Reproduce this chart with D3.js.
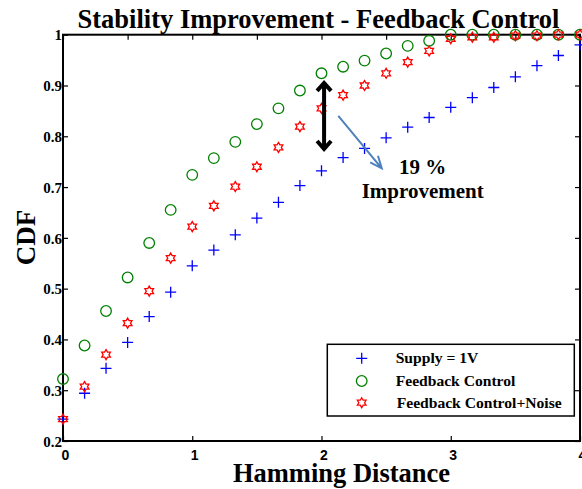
<!DOCTYPE html>
<html>
<head>
<meta charset="utf-8">
<script src="https://cdn.jsdelivr.net/npm/d3@7"></script>
<style>
  html, body { margin: 0; padding: 0; background: #fff; }
  svg { display: block; }
</style>
</head>
<body>
<svg id="chart" width="582" height="489"></svg>
<script>
// Hamming distance sample points
const hamming = [0, 0.167, 0.333, 0.5, 0.667, 0.833, 1, 1.167, 1.333, 1.5, 1.667, 1.833,
                 2, 2.167, 2.333, 2.5, 2.667, 2.833, 3, 3.167, 3.333, 3.5, 3.667, 3.833, 4];

// CDF values per configuration
const supply1V = [0.243, 0.294, 0.343, 0.394, 0.445, 0.493, 0.545, 0.576, 0.606, 0.639, 0.670, 0.703,
                  0.732, 0.758, 0.776, 0.797, 0.818, 0.837, 0.857, 0.876, 0.896, 0.917, 0.939, 0.959, 0.980];
const feedback = [0.322, 0.388, 0.456, 0.522, 0.590, 0.655, 0.724, 0.757, 0.789, 0.824, 0.855, 0.890,
                  0.924, 0.937, 0.949, 0.963, 0.978, 0.988, 1.0, 1.0, 1.0, 1.0, 1.0, 1.0, 1.0];
const feedbackNoise = [0.243, 0.307, 0.370, 0.432, 0.495, 0.560, 0.622, 0.663, 0.701, 0.740, 0.778, 0.819,
                       0.855, 0.881, 0.900, 0.924, 0.946, 0.968, 0.992, 0.995, 0.995, 0.998, 0.998, 1.0, 1.0];

const seriesNames = ["Supply = 1V", "Feedback Control", "Feedback Control+Noise"];
const xTickValues = [0, 1, 2, 3, 4];
const xTopTickValues = [0, 0.5, 1, 1.5, 2, 2.5, 3, 3.5, 4];
const yTickValues = [0.2, 0.3, 0.4, 0.5, 0.6, 0.7, 0.8, 0.9, 1];

// Improvement annotation at Hamming distance 2
const gapX = 2.02;
const gapTop = 0.907, gapBottom = 0.773;
const improvementPct = Math.round((feedback[12] - supply1V[12]) * 100);

const svg = d3.select("#chart");
const plotLeft = 63, plotRight = 580, plotTop = 34.7, plotBottom = 441;

const x = d3.scaleLinear().domain([0, 4]).range([plotLeft, plotRight]);
const y = d3.scaleLinear().domain([0.2, 1]).range([plotBottom, plotTop]);

const serif = "'Liberation Serif', 'Times New Roman', serif";
const sans = "'Liberation Sans', Arial, sans-serif";

// Frame
svg.append("rect")
  .attr("x", plotLeft).attr("y", plotTop)
  .attr("width", plotRight - plotLeft).attr("height", plotBottom - plotTop)
  .attr("fill", "none").attr("stroke", "#000").attr("stroke-width", 2);

// Left axis: inward ticks with bold serif labels
const yAxisL = svg.append("g").attr("transform", `translate(${plotLeft},0)`)
  .call(d3.axisLeft(y).tickValues(yTickValues).tickSize(-5).tickPadding(3)
    .tickFormat(d => d === 1 ? "1" : d3.format(".1f")(d)));
yAxisL.select(".domain").remove();
yAxisL.selectAll("line").attr("stroke", "#000").attr("stroke-width", 1.2);
yAxisL.selectAll("text").attr("x", -1).attr("dy", "0.35em")
  .style("font-family", serif).style("font-weight", "bold").style("font-size", "15px").attr("fill", "#000");

// Right axis: inward ticks, no labels
const yAxisR = svg.append("g").attr("transform", `translate(${plotRight},0)`)
  .call(d3.axisRight(y).tickValues(yTickValues).tickSize(-5).tickFormat(""));
yAxisR.select(".domain").remove();
yAxisR.selectAll("line").attr("stroke", "#000").attr("stroke-width", 1.2);

// Bottom axis
const xAxisB = svg.append("g").attr("transform", `translate(0,${plotBottom})`)
  .call(d3.axisBottom(x).tickValues(xTickValues).tickSize(-5).tickPadding(5).tickFormat(d3.format("d")));
xAxisB.select(".domain").remove();
xAxisB.selectAll("line").attr("stroke", "#000").attr("stroke-width", 1.2);
xAxisB.selectAll("text").attr("y", 19).attr("dy", 0).attr("dx", 2)
  .style("font-family", sans).style("font-weight", "bold").style("font-size", "14px").attr("fill", "#000");

// Top axis
const xAxisT = svg.append("g").attr("transform", `translate(0,${plotTop})`)
  .call(d3.axisTop(x).tickValues(xTopTickValues).tickSize(-5).tickFormat(""));
xAxisT.select(".domain").remove();
xAxisT.selectAll("line").attr("stroke", "#000").attr("stroke-width", 1.2);

// Marker shapes
function plusPath(s) { return `M${-s},0H${s}M0,${-s}V${s}`; }
function hexagramPath(R) {
  const r = R / Math.sqrt(3);
  const pts = [];
  for (let i = 0; i < 12; i++) {
    const a = -Math.PI / 2 + i * Math.PI / 6;
    const rad = i % 2 === 0 ? R : r;
    pts.push([rad * Math.cos(a), rad * Math.sin(a)]);
  }
  return "M" + pts.map(p => p[0].toFixed(2) + "," + p[1].toFixed(2)).join("L") + "Z";
}

const blue = "#0000ff", green = "#008000", red = "#ff0000";

function drawSeries(values, kind, color) {
  const g = svg.append("g");
  const pts = hamming.map((h, i) => ({ h, v: values[i] }));
  if (kind === "circle") {
    g.selectAll("circle").data(pts).join("circle")
      .attr("cx", d => x(d.h)).attr("cy", d => y(d.v)).attr("r", 5.3)
      .attr("fill", "none").attr("stroke", color).attr("stroke-width", 1.3);
  } else {
    const p = kind === "plus" ? plusPath(5.5) : hexagramPath(5);
    g.selectAll("path").data(pts).join("path")
      .attr("transform", d => `translate(${x(d.h)},${y(d.v)})`)
      .attr("d", p).attr("fill", "none").attr("stroke", color).attr("stroke-width", 1.3);
  }
}

drawSeries(supply1V, "plus", blue);
drawSeries(feedback, "circle", green);
drawSeries(feedbackNoise, "hexagram", red);

// Double-headed black arrow showing the gap
const ax = x(gapX), ay1 = y(gapTop), ay2 = y(gapBottom);
svg.append("path")
  .attr("d", `M${ax},${ay1}V${ay2}M${ax - 7},${ay1 + 9}L${ax},${ay1 + 1}L${ax + 7},${ay1 + 9}M${ax - 7},${ay2 - 9}L${ax},${ay2 - 1}L${ax + 7},${ay2 - 9}`)
  .attr("fill", "none").attr("stroke", "#000").attr("stroke-width", 4).attr("stroke-linejoin", "miter");

// Blue pointer arrow
const bx1 = x(2.13), by1 = y(0.84), bx2 = x(2.466), by2 = y(0.737);
const ang = Math.atan2(by2 - by1, bx2 - bx1);
const hl = 13, ha = 0.4;
svg.append("path")
  .attr("d", `M${bx1},${by1}L${bx2},${by2}` +
    `M${bx2 - hl * Math.cos(ang - ha)},${by2 - hl * Math.sin(ang - ha)}L${bx2},${by2}` +
    `L${bx2 - hl * Math.cos(ang + ha)},${by2 - hl * Math.sin(ang + ha)}`)
  .attr("fill", "none").attr("stroke", "#4f81bd").attr("stroke-width", 2);

// Annotation text
svg.append("text").attr("x", 422.7).attr("y", 173.5).attr("text-anchor", "middle")
  .style("font-family", serif).style("font-weight", "bold").style("font-size", "21px")
  .text(`${improvementPct} %`);
svg.append("text").attr("x", 422.7).attr("y", 198).attr("text-anchor", "middle")
  .style("font-family", serif).style("font-weight", "bold").style("font-size", "21px")
  .text("Improvement");

// Title and axis labels
svg.append("text").attr("x", 318.5).attr("y", 28).attr("text-anchor", "middle")
  .style("font-family", serif).style("font-weight", "bold").style("font-size", "26.5px")
  .text("Stability Improvement - Feedback Control");
svg.append("text").attr("x", 341.5).attr("y", 482).attr("text-anchor", "middle")
  .style("font-family", serif).style("font-weight", "bold").style("font-size", "26.5px")
  .text("Hamming Distance");
svg.append("text").attr("transform", "translate(35,237.5) rotate(-90)").attr("text-anchor", "middle")
  .style("font-family", serif).style("font-weight", "bold").style("font-size", "27px")
  .text("CDF");

// Legend
const lg = svg.append("g");
lg.append("rect").attr("x", 327.3).attr("y", 344.3).attr("width", 247).attr("height", 71.7)
  .attr("fill", "#fff").attr("stroke", "#000").attr("stroke-width", 1.5);
const legendRows = [
  { name: seriesNames[0], kind: "plus", color: blue, cy: 358.3 },
  { name: seriesNames[1], kind: "circle", color: green, cy: 381 },
  { name: seriesNames[2], kind: "hexagram", color: red, cy: 402.7 }
];
legendRows.forEach((r, i) => {
  if (r.kind === "circle") {
    lg.append("circle").attr("cx", 361.7).attr("cy", r.cy).attr("r", 5.3)
      .attr("fill", "none").attr("stroke", r.color).attr("stroke-width", 1.3);
  } else {
    lg.append("path").attr("transform", `translate(361.7,${r.cy})`)
      .attr("d", r.kind === "plus" ? plusPath(5.5) : hexagramPath(5))
      .attr("fill", "none").attr("stroke", r.color).attr("stroke-width", 1.3);
  }
  lg.append("text").attr("x", i === 2 ? 396.7 : 395.7).attr("y", r.cy + 5)
    .style("font-family", serif).style("font-weight", "bold").style("font-size", "15.6px")
    .text(r.name);
});
</script>
</body>
</html>
